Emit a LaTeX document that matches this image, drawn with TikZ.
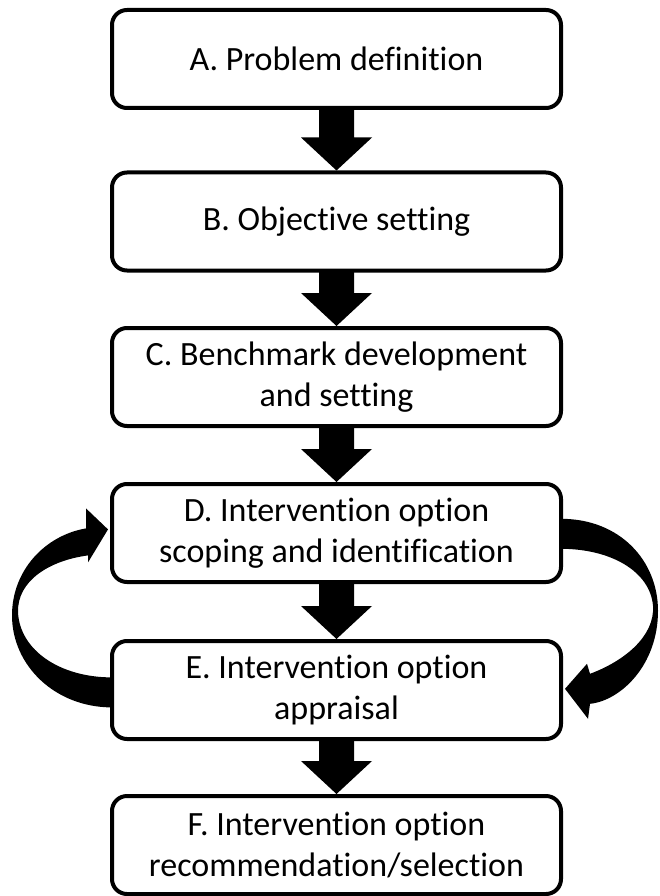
\documentclass[tikz,border=0pt]{standalone}
\usepackage{fontspec}
\setmainfont{Carlito}[Ligatures=CommonOff]
\usetikzlibrary{calc}
\tikzset{
  stepbox/.style={draw=black, line width=4pt, rounded corners=15pt, fill=white,
    minimum width=449pt, minimum height=98pt, inner sep=0pt, align=center,
    font=\fontsize{34}{41.5}\selectfont},
  blockarr/.style={fill=black, draw=none},
}
\newcommand\blockdown[2]{%
  \path[blockarr] ($(#1.south)+(-17.5,-2)$) -- ($(#2.north)+(-17.5,-33)$)
    -- ($(#2.north)+(-35.5,-33)$) -- (#2.north) -- ($(#2.north)+(35.5,-33)$)
    -- ($(#2.north)+(17.5,-33)$) -- ($(#1.south)+(17.5,-2)$) -- cycle;}
\begin{document}
\begin{tikzpicture}[x=1pt,y=-1pt]
\useasboundingbox (0,0) rectangle (659,896);
\node[stepbox] (A) at (336.5,59)    {A. Problem definition};
\node[stepbox] (B) at (336.5,221.5) {B. Objective setting};
\node[stepbox] (C) at (336.5,377)   {C. Benchmark development\\and setting};
\node[stepbox] (D) at (336.5,533)   {D. Intervention option\\scoping and identification};
\node[stepbox] (E) at (336.5,690)   {E. Intervention option\\appraisal};
\node[stepbox] (F) at (336.5,845)   {F. Intervention option\\recommendation/selection};
\blockdown{A}{B}
\blockdown{B}{C}
\blockdown{C}{D}
\blockdown{D}{E}
\blockdown{E}{F}
% curved arrow from E back to D (left side)
\begin{scope}[shift={(E.west)}]
\path[blockarr] (2,17.4) .. controls (-55,17.4) and (-98,-24.6) .. (-98,-74.6)
  .. controls (-98,-119.6) and (-65,-154.6) .. (-24,-161.6)
  -- (-24,-181.6) -- (-2,-160.6) -- (-22,-127.6) -- (-22,-134.6)
  .. controls (-60,-129.6) and (-93,-109.6) .. (-92,-77.6)
  .. controls (-90,-39.6) and (-50,-12.6) .. (2,-12.6) -- cycle;
\end{scope}
% curved arrow from D to E (right side)
\begin{scope}[shift={(D.east)}]
\path[blockarr] (-2,-14.2) .. controls (57,-14.2) and (95,27.8) .. (95,77.8)
  .. controls (95,132.8) and (57,167.8) .. (27,170.8)
  -- (25,185.8) -- (2,155.8) -- (24,130.8) -- (27,140.8)
  .. controls (62,127.8) and (92,102.8) .. (90,72.8)
  .. controls (87,37.8) and (47,15.8) .. (-2,15.8) -- cycle;
\end{scope}
\end{tikzpicture}
\end{document}
